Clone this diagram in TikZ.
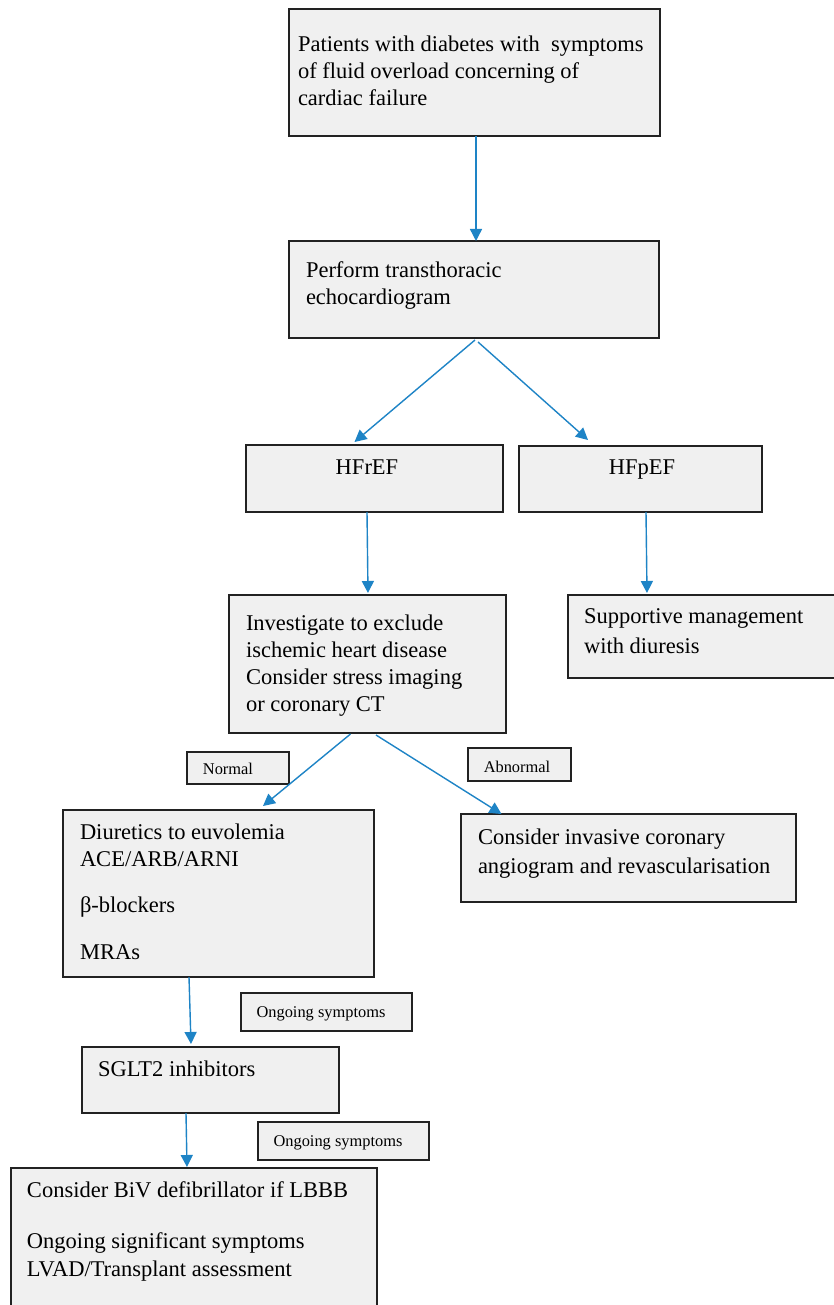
\documentclass[tikz,border=0pt]{standalone}
\usepackage{fontspec}
\setmainfont{Liberation Serif}
\usetikzlibrary{arrows.meta}
\definecolor{boxfill}{RGB}{240,240,240}
\definecolor{boxline}{RGB}{34,34,34}
\definecolor{arrowblue}{RGB}{30,132,198}
\newcommand{\bigtxt}{\fontsize{22.5}{27}\selectfont}
\newcommand{\smalltxt}{\fontsize{16.4}{19}\selectfont}
\newcommand{\lines}[1]{\parbox[t]{520pt}{\raggedright #1}}
\begin{document}
\begin{tikzpicture}[x=1pt,y=-1pt,
  flowbox/.style={draw=boxline, fill=boxfill, line width=1.5pt, inner sep=0pt, outer sep=0pt, anchor=north west, rectangle},
  bigtext/.style={anchor=base west, inner sep=0pt, outer sep=0pt, font=\bigtxt, text=black},
  centertext/.style={anchor=base, inner sep=0pt, outer sep=0pt, font=\bigtxt, text=black},
  smalltext/.style={anchor=base, inner sep=0pt, outer sep=0pt, font=\smalltxt, text=black},
  flowarrow/.style={draw=arrowblue, line width=1.4pt, -{Triangle[length=12pt,width=12pt]}}
]
\useasboundingbox (0,0) rectangle (834,1305);
\fill[white] (0,0) rectangle (834,1305);
\clip (0,0) rectangle (834,1305);

% boxes
\node[flowbox, minimum width=371pt, minimum height=127pt] (top) at (289,9) {};
\node[flowbox, minimum width=370pt, minimum height=97pt] (echo) at (289,241) {};
\node[flowbox, minimum width=257pt, minimum height=67pt] (hfref) at (246,445) {};
\node[flowbox, minimum width=243pt, minimum height=66pt] (hfpef) at (519,446) {};
\node[flowbox, minimum width=277pt, minimum height=138pt] (invest) at (229,595) {};
\node[flowbox, minimum width=280pt, minimum height=83pt] (support) at (568,595) {};
\node[flowbox, minimum width=102pt, minimum height=32pt] (normal) at (187,752) {};
\node[flowbox, minimum width=103pt, minimum height=33pt] (abnormal) at (468,748) {};
\node[flowbox, minimum width=311pt, minimum height=167pt] (diur) at (63,810) {};
\node[flowbox, minimum width=335pt, minimum height=88pt] (invasive) at (461,814) {};
\node[flowbox, minimum width=171pt, minimum height=38pt] (ongoingA) at (241,993) {};
\node[flowbox, minimum width=257pt, minimum height=66pt] (sglt) at (82,1047) {};
\node[flowbox, minimum width=171pt, minimum height=38pt] (ongoingB) at (258,1122) {};
\node[flowbox, minimum width=366pt, minimum height=150pt] (biv) at (11,1168) {};

% texts
\node[bigtext] (toptxt) at (298,52) {\lines{Patients with diabetes with\ \ symptoms\\ of fluid overload concerning of\\ cardiac failure}};
\node[bigtext] (echotxt) at (306,278) {\lines{Perform transthoracic\\ echocardiogram}};
\node[centertext] (hfreftxt) at (367,474) {HFrEF};
\node[centertext] (hfpeftxt) at (642,474) {HFpEF};
\node[bigtext] (investtxt) at (246,630) {\lines{Investigate to exclude\\ ischemic heart disease\\ Consider stress imaging\\ or coronary CT}};
\node[bigtext] (supporttxt) at (584,623) {\lines{Supportive management\\[3pt] with diuresis}};
\node[smalltext] (normaltxt) at (228,774) {Normal};
\node[smalltext] (abnormaltxt) at (517,772) {Abnormal};
\node[bigtext] (diurtxt) at (80,839) {\lines{Diuretics to euvolemia\\ ACE/ARB/ARNI\\[19pt] β-blockers\\[20pt] MRAs}};
\node[bigtext] (invasivetxt) at (478,844) {\lines{Consider invasive coronary\\[2pt] angiogram and revascularisation}};
\node[smalltext] (ongoingAtxt) at (321,1017) {Ongoing symptoms};
\node[bigtext] (sglttxt) at (98,1076) {SGLT2 inhibitors};
\node[smalltext] (ongoingBtxt) at (338,1146) {Ongoing symptoms};
\node[bigtext] (bivtxt) at (27,1197) {\lines{Consider BiV defibrillator if LBBB\\[24pt] Ongoing significant symptoms\\[1pt] LVAD/Transplant assessment}};

% connectors
\draw[flowarrow] ([xshift=1.5pt]top.south) -- ([xshift=2pt]echo.north);
\draw[flowarrow] ([xshift=1pt,yshift=-2pt]echo.south) -- ([xshift=-20pt,yshift=3pt]hfref.north);
\draw[flowarrow] ([xshift=4pt,yshift=-4pt]echo.south) -- ([xshift=-52.5pt,yshift=6pt]hfpef.north);
\draw[flowarrow] ([xshift=-7.5pt]hfref.south) -- ([xshift=0.5pt,yshift=2pt]invest.north);
\draw[flowarrow] ([xshift=5.5pt]hfpef.south) -- ([xshift=-61pt,yshift=2pt]support.north);
\draw[flowarrow] ([xshift=-17pt,yshift=-1pt]invest.south) -- ([xshift=44.5pt,yshift=4pt]diur.north);
\draw[flowarrow] ([xshift=8.5pt,yshift=-2pt]invest.south) -- ([xshift=-127pt]invasive.north);
\draw[flowarrow] ([xshift=-29.5pt]diur.south) -- ([xshift=-19.5pt,yshift=3pt]sglt.north);
\draw[flowarrow] ([xshift=-24.5pt]sglt.south) -- ([xshift=-7pt,yshift=1pt]biv.north);
\end{tikzpicture}
\end{document}
